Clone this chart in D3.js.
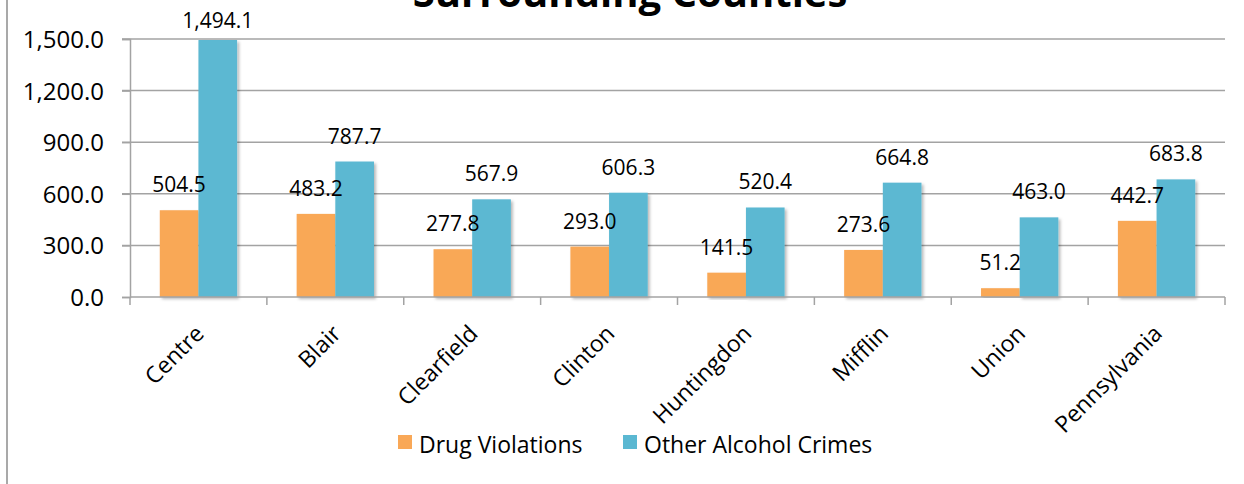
<!DOCTYPE html>
<html>
<head>
<meta charset="utf-8">
<script src="https://cdn.jsdelivr.net/npm/d3@7"></script>
<style>
  html, body { margin: 0; padding: 0; background: #fff; }
  svg { display: block; font-family: "Open Sans", "DejaVu Sans", sans-serif; }
</style>
</head>
<body>
<svg id="chart" width="1244" height="484"></svg>
<script>
// County names along the x axis
const counties = ["Centre", "Blair", "Clearfield", "Clinton", "Huntingdon", "Mifflin", "Union", "Pennsylvania"];
// Rates per series
const drugViolations = [504.5, 483.2, 277.8, 293.0, 141.5, 273.6, 51.2, 442.7];
const otherAlcoholCrimes = [1494.1, 787.7, 567.9, 606.3, 520.4, 664.8, 463.0, 683.8];
// Series names and y-axis ticks
const seriesNames = ["Drug Violations", "Other Alcohol Crimes"];
const yTicks = [0, 300, 600, 900, 1200, 1500];

const colors = ["#F9A857", "#5BB8D2"];
const gridColor = "#A3A3A3";

const svg = d3.select("#chart");

const defs = svg.append("defs");
const shadow = defs.append("filter").attr("id", "barShadow")
  .attr("x", "-20%").attr("y", "-5%").attr("width", "150%").attr("height", "115%");
shadow.append("feDropShadow")
  .attr("dx", 2).attr("dy", 2).attr("stdDeviation", 1.5)
  .attr("flood-color", "#000").attr("flood-opacity", 0.28);

// Outer frame edge on the left
svg.append("line")
  .attr("x1", 7).attr("x2", 7).attr("y1", 0).attr("y2", 484)
  .attr("stroke", "#8c8c8c").attr("stroke-width", 1.5);

// Title (second line of a wrapped heading)
svg.append("text")
  .attr("x", 630).attr("y", 7)
  .attr("text-anchor", "middle")
  .attr("font-weight", 700)
  .attr("font-size", 40)
  .attr("fill", "#000")
  .text("Surrounding Counties");

const plotLeft = 130, plotRight = 1225, plotTop = 39, plotBottom = 297;

const x = d3.scaleBand().domain(counties).range([plotLeft, plotRight]).paddingInner(0).paddingOuter(0);
const xs = d3.scaleBand().domain(seriesNames).range([0, x.bandwidth()]).paddingInner(0).paddingOuter(0.77);
const y = d3.scaleLinear().domain([0, 1500]).range([plotBottom, plotTop]);

// Horizontal gridlines (extend left as major tick marks)
svg.append("g")
  .selectAll("line")
  .data(yTicks.filter(d => d > 0))
  .join("line")
  .attr("x1", plotLeft - 8).attr("x2", plotRight)
  .attr("y1", d => y(d)).attr("y2", d => y(d))
  .attr("stroke", gridColor).attr("stroke-width", 1.5);

// Y axis
const yAxis = svg.append("g")
  .attr("transform", `translate(${plotLeft},0)`)
  .call(d3.axisLeft(y).tickValues(yTicks).tickFormat(d3.format(",.1f")).tickSize(8).tickPadding(18));
yAxis.select(".domain").attr("stroke", gridColor).attr("stroke-width", 1.5);
yAxis.selectAll(".tick line").attr("stroke", gridColor).attr("stroke-width", 1.5);
yAxis.selectAll(".tick text")
  .attr("font-size", 24).attr("fill", "#000")
  .attr("font-family", "'Open Sans', sans-serif")
  .attr("dy", "0.35em");

// Bars
const groups = svg.append("g")
  .selectAll("g")
  .data(counties.map((c, i) => ({ county: c, values: [drugViolations[i], otherAlcoholCrimes[i]] })))
  .join("g")
  .attr("transform", d => `translate(${x(d.county)},0)`);

groups.selectAll("rect")
  .data(d => d.values.map((v, k) => ({ series: seriesNames[k], value: v, k })))
  .join("rect")
  .attr("x", d => xs(d.series))
  .attr("width", xs.bandwidth())
  .attr("y", d => y(d.value))
  .attr("height", d => y(0) - y(d.value))
  .attr("fill", d => colors[d.k])
  .attr("filter", "url(#barShadow)");

// X axis (category boundary ticks)
const xAxisG = svg.append("g").attr("transform", `translate(0,${plotBottom})`);
xAxisG.append("line")
  .attr("x1", plotLeft).attr("x2", plotRight)
  .attr("stroke", gridColor).attr("stroke-width", 1.5);
const boundaries = counties.map(c => x(c)).concat([plotRight]);
xAxisG.selectAll("line.tick")
  .data(boundaries)
  .join("line")
  .attr("class", "tick")
  .attr("x1", d => d).attr("x2", d => d)
  .attr("y1", 0).attr("y2", 8)
  .attr("stroke", gridColor).attr("stroke-width", 1.5);

// Rotated category labels
svg.append("g")
  .selectAll("text")
  .data(counties)
  .join("text")
  .attr("transform", d => `translate(${x(d) + x.bandwidth() / 2 + 7},${plotBottom + 38}) rotate(-45)`)
  .attr("text-anchor", "end")
  .attr("font-size", 23)
  .attr("fill", "#000")
  .text(d => d);

// Value labels above the bars
const fmt = d3.format(",.1f");
groups.selectAll("text")
  .data(d => d.values.map((v, k) => ({ series: seriesNames[k], value: v })))
  .join("text")
  .attr("x", d => xs(d.series) + xs.bandwidth() / 2)
  .attr("y", d => Math.max(y(d.value) - 18, 28))
  .attr("text-anchor", "middle")
  .attr("font-size", 21)
  .attr("fill", "#000")
  .text(d => fmt(d.value));

// Legend
const legend = svg.append("g").attr("transform", "translate(398,453)");
const legendX = [0, 225];
seriesNames.forEach((name, i) => {
  const g = legend.append("g").attr("transform", `translate(${legendX[i]},0)`);
  g.append("rect").attr("x", 0).attr("y", -18).attr("width", 14).attr("height", 14).attr("fill", colors[i]);
  g.append("text").attr("x", 21).attr("y", 0).attr("font-size", 23).attr("fill", "#000").text(name);
});
</script>
</body>
</html>
